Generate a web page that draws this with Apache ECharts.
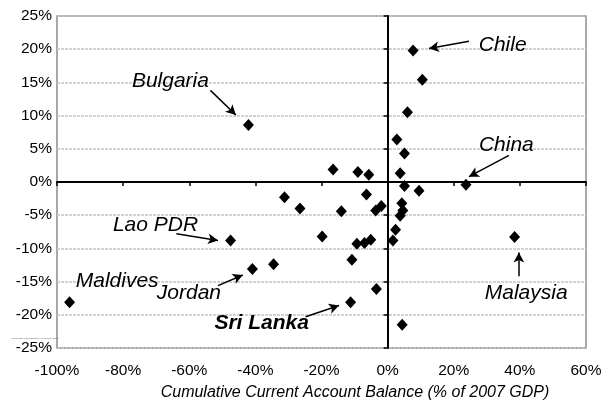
<!DOCTYPE html>
<html>
<head>
<meta charset="utf-8">
<script src="https://cdn.jsdelivr.net/npm/echarts@6/dist/echarts.min.js"></script>
<style>html,body{margin:0;padding:0;background:#fff}#c{width:615px;height:403px}</style>
</head>
<body>
<div id="c"></div>
<script>
// Cumulative current account balance (% of 2007 GDP)
const xVals = [7.7, 10.5, 6.0, 2.8, 5.1, -42.1, -16.5, -9.0, -5.7, 3.8, 5.1, 9.5, 23.7, -6.4, -31.2, -26.5, -14.0, -3.6, -1.9, 4.3, 4.6, 3.8, -19.8, 2.4, 1.6, -9.3, -7.0, -5.1, -47.5, -40.9, -34.5, -10.8, -3.4, -11.2, 4.4, -96.2, 38.4];
// Y values (%)
const yVals = [19.8, 15.4, 10.5, 6.4, 4.3, 8.6, 1.9, 1.5, 1.1, 1.3, -0.6, -1.3, -0.4, -1.9, -2.3, -4.0, -4.4, -4.3, -3.6, -3.2, -4.3, -5.1, -8.2, -7.2, -8.8, -9.3, -9.2, -8.7, -8.8, -13.1, -12.4, -11.7, -16.1, -18.1, -21.5, -18.1, -8.3];

const xTicks = {min: -100, max: 60, interval: 20};
const yTicks = {min: -25, max: 25, interval: 5};

// Annotation texts and their positions (data units)
const annNames = ['Bulgaria', 'Chile', 'China', 'Lao PDR', 'Maldives', 'Jordan', 'Sri Lanka', 'Malaysia'];
const annX = [-65.7, 34.8, 35.9, -70.2, -81.8, -60.1, -38.1, 41.9];
const annY = [15.2, 20.6, 5.5, -6.5, -14.9, -16.7, -21.3, -16.7];
const annBold = [false, false, false, false, false, false, true, false];
// Arrows: start and end (data units)
const arrowFrom = [[-53.6, 13.8], [24.6, 21.2], [36.7, 4.0], [-63.9, -7.8], [-51.3, -15.6], [-24.8, -20.3], [39.7, -14.2]];
const arrowTo = [[-45.9, 10.1], [12.5, 20.1], [24.6, 0.8], [-51.3, -8.8], [-43.8, -14.0], [-14.7, -18.6], [39.7, -10.6]];

const FONT = 'Liberation Sans, Arial, sans-serif';
const chart = echarts.init(document.getElementById('c'), null, {renderer: 'canvas'});

const labelAxisBase = {type: 'value', min: xTicks.min, max: xTicks.max, interval: xTicks.interval};

chart.setOption({
  animation: false,
  backgroundColor: '#fff',
  grid: {left: 57, right: 29, top: 16, bottom: 55, show: true, borderColor: '#8c8c8c', borderWidth: 1.5, containLabel: false},
  xAxis: [
    Object.assign({}, labelAxisBase, {
      position: 'bottom',
      axisLine: {show: false, onZero: false},
      axisTick: {show: false},
      splitLine: {show: false},
      axisLabel: {formatter: '{value}%', fontSize: 15.5, color: '#000', fontFamily: FONT, margin: 15}
    }),
    Object.assign({}, labelAxisBase, {
      position: 'bottom',
      axisLine: {show: true, onZero: true, onZeroAxisIndex: 0, lineStyle: {color: '#000', width: 2}},
      axisTick: {show: true, length: 4, lineStyle: {color: '#000', width: 1.5}},
      splitLine: {show: false},
      axisLabel: {show: false}
    })
  ],
  yAxis: [
    {
      type: 'value', min: yTicks.min, max: yTicks.max, interval: yTicks.interval,
      position: 'left',
      axisLine: {show: false, onZero: false},
      axisTick: {show: false},
      splitLine: {show: true, lineStyle: {color: '#c4c4c4', width: 1.5, type: [3, 1]}},
      axisLabel: {formatter: '{value}%', fontSize: 15.5, color: '#000', fontFamily: FONT, margin: 5}
    },
    {
      type: 'value', min: yTicks.min, max: yTicks.max, interval: yTicks.interval,
      position: 'left',
      axisLine: {show: true, onZero: true, onZeroAxisIndex: 0, lineStyle: {color: '#000', width: 2}},
      axisTick: {show: true, length: 4, lineStyle: {color: '#000', width: 1.5}},
      splitLine: {show: false},
      axisLabel: {show: false}
    }
  ],
  series: [
    {
      type: 'scatter',
      xAxisIndex: 0, yAxisIndex: 0,
      symbol: 'diamond',
      symbolSize: [11, 12],
      itemStyle: {color: '#000', opacity: 1},
      data: xVals.map((x, i) => [x, yVals[i]]),
      z: 5,
      markLine: {
        silent: true,
        symbol: ['none', 'arrow'],
        symbolSize: [8, 10],
        label: {show: false},
        lineStyle: {color: '#000', width: 1.5, type: 'solid', opacity: 1},
        data: arrowFrom.map((f, i) => [{coord: f}, {coord: arrowTo[i]}])
      }
    },
    {
      type: 'scatter',
      xAxisIndex: 0, yAxisIndex: 0,
      symbolSize: 0,
      silent: true,
      itemStyle: {opacity: 1},
      data: annNames.map((n, i) => ({
        name: n, value: [annX[i], annY[i]],
        label: {fontWeight: annBold[i] ? 'bold' : 'normal'}
      })),
      label: {
        show: true, position: 'inside', formatter: '{b}',
        fontSize: 21, fontStyle: 'italic', color: '#000', fontFamily: FONT
      },
      z: 6
    }
  ],
  graphic: [
    {
      type: 'text', x: 355, y: 393,
      style: {text: 'Cumulative Current Account Balance (% of 2007 GDP)', font: 'italic 16px Liberation Sans', fill: '#000', textAlign: 'center', textVerticalAlign: 'middle'}
    },
    {
      type: 'text', x: 35, y: 338,
      style: {text: 'Cumulative Fiscal Balance (% of 2007 GDP)', font: '2.4px Liberation Sans', fill: '#555', textAlign: 'center', textVerticalAlign: 'middle'}
    }
  ]
});
</script>
</body>
</html>
